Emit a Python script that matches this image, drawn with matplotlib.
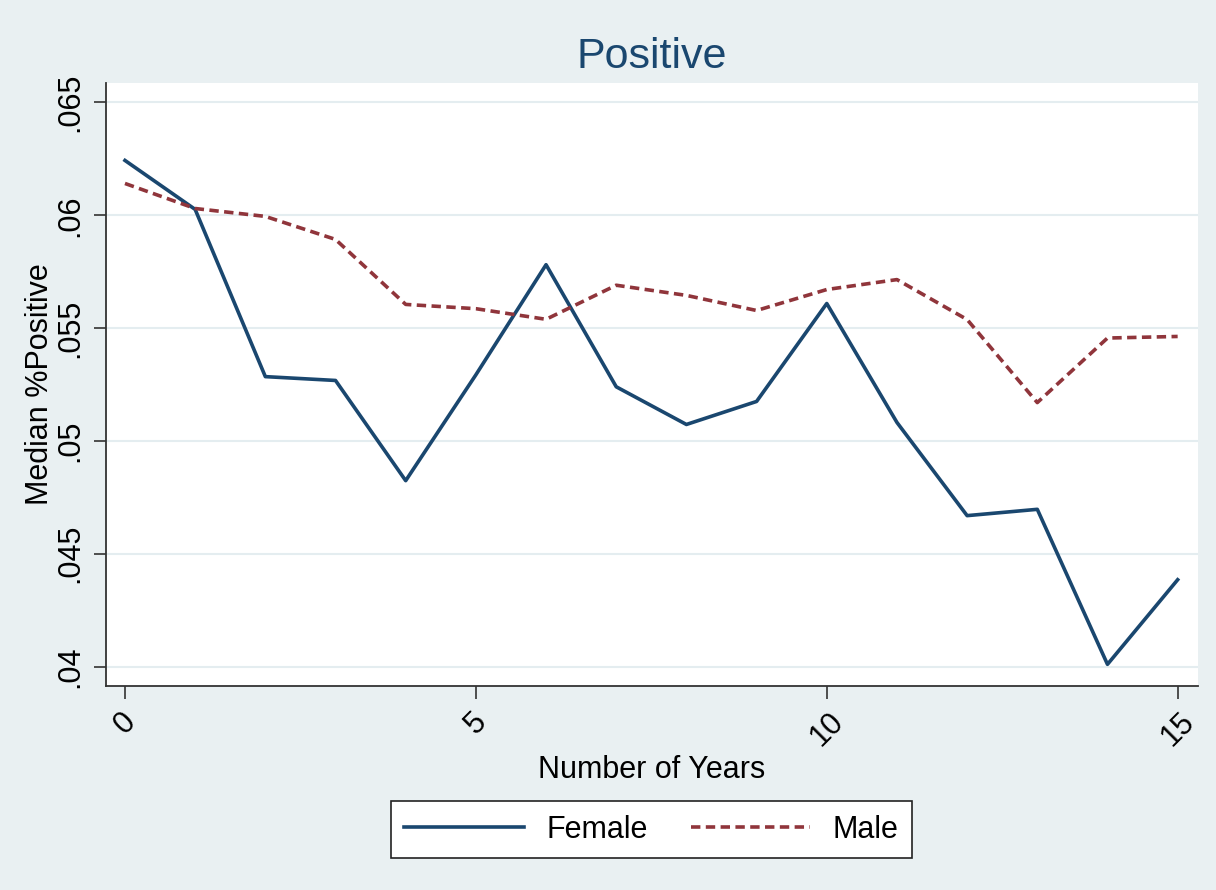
import numpy as np
import matplotlib.pyplot as plt

years = list(range(16))
female = [0.06243, 0.06026, 0.05285, 0.05268, 0.04824, 0.05293, 0.05781, 0.0524,
          0.05073, 0.05175, 0.05609, 0.05082, 0.04669, 0.04697, 0.0401, 0.04385]
male = [0.06141, 0.0603, 0.05995, 0.05893, 0.05605, 0.05586, 0.05539, 0.0569,
        0.05645, 0.05578, 0.05671, 0.05715, 0.05538, 0.0517, 0.05456, 0.05463]
yticks = [0.04, 0.045, 0.05, 0.055, 0.06, 0.065]
ytick_labels = ['.04', '.045', '.05', '.055', '.06', '.065']
xticks = [0, 5, 10, 15]

navy = '#1a476f'
maroon = '#90353b'
bg = '#e9f0f2'

plt.rcParams['font.family'] = ['Liberation Sans', 'DejaVu Sans']

fig = plt.figure(figsize=(12.16, 8.9), dpi=100, facecolor=bg)
ax = fig.add_axes([0.0872, 0.2292, 0.898, 0.6775])
ax.set_facecolor('white')

ax.plot(years, female, color=navy, lw=2.6, label='Female')
ax.plot(years, male, color=maroon, lw=2.6, ls=(0, (2.6, 1.5)), label='Male')

ax.set_xlim(-0.27, 15.29)
ax.set_ylim(0.03914, 0.06586)
ax.set_yticks(yticks)
ax.set_yticklabels(ytick_labels, rotation=90, va='center')
ax.set_xticks(xticks)
ax.set_xticklabels([str(t) for t in xticks], rotation=45, ha='center', va='top')
ax.tick_params(axis='both', labelsize=22, length=9, width=1.2, color='#333333', pad=6)
ax.grid(axis='y', color='#e4edf0', lw=1.5)
ax.set_axisbelow(True)

for side in ['top', 'right']:
    ax.spines[side].set_visible(False)
for side in ['left', 'bottom']:
    ax.spines[side].set_color('#333333')
    ax.spines[side].set_linewidth(1.3)

ax.set_xlabel('Number of Years', fontsize=22, labelpad=2)
ax.set_ylabel('Median %Positive', fontsize=22, labelpad=0)

fig.text(652 / 1216, 1 - 57 / 890, 'Positive', fontsize=31, color=navy,
         ha='center', va='center')

leg = fig.legend(loc='center', bbox_to_anchor=(651.5 / 1216, 1 - 829.5 / 890),
                 ncol=2, fontsize=22, frameon=True, fancybox=False,
                 edgecolor='#222222', facecolor='white', framealpha=1,
                 handlelength=3.9, handletextpad=0.75, columnspacing=1.4,
                 borderpad=0.45, borderaxespad=0)
leg.get_frame().set_linewidth(1.2)

fig.savefig('out.png', dpi=100, facecolor=bg)
